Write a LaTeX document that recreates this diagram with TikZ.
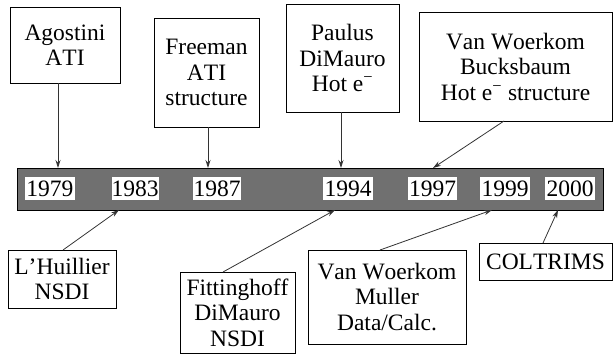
\documentclass[tikz,border=0pt]{standalone}
\usepackage{fontspec}
\setmainfont{Liberation Serif}[Kerning=Off]
\usetikzlibrary{arrows.meta}
\begin{document}
\begin{tikzpicture}[x=1pt,y=-1pt,
  lbl/.style={draw=black,line width=0.8pt,fill=white,align=center,inner sep=0pt,
    font=\fontsize{23.5}{25.5}\selectfont},
  yr/.style={fill=white,inner sep=0pt,minimum height=23pt,minimum width=50pt,
    font=\fontsize{23.5}{25}\selectfont},
  conn/.style={draw=black!80,line width=0.8pt,-{Stealth[length=8pt,width=5pt]}}]
\useasboundingbox (0,0) rectangle (613,356);
% timeline bar
\node[draw=black,line width=0.8pt,fill=black!56,minimum width=586pt,minimum height=42pt,inner sep=0pt]
  (bar) at (310,189) {};
\node[yr] (y1979) at (50,188.5) {1979};
\node[yr,minimum width=46pt] (y1983) at (135,188.5) {1983};
\node[yr,minimum width=48pt] (y1987) at (217,188.5) {1987};
\node[yr] (y1994) at (348,188.5) {1994};
\node[yr,minimum width=49pt] (y1997) at (432.5,188.5) {1997};
\node[yr] (y1999) at (505,188.5) {1999};
\node[yr] (y2000) at (570,188.5) {2000};
% top boxes
\node[lbl,minimum width=110pt,minimum height=76pt] (ago) at (65,45) {Agostini\\ATI};
\node[lbl,minimum width=105pt,minimum height=109pt] (free) at (206.5,72.5) {Freeman\\ATI\\structure};
\node[lbl,minimum width=113pt,minimum height=108pt] (paul) at (342.5,58) {Paulus\\DiMauro\\Hot e\textsuperscript{−}};
\node[lbl,minimum width=193pt,minimum height=109pt] (vwb) at (515.5,66.5) {Van Woerkom\\Bucksbaum\\Hot e\textsuperscript{−} structure};
% bottom boxes
\node[lbl,minimum width=108pt,minimum height=58pt] (lhu) at (62,279) {L’Huillier\\NSDI};
\node[lbl,minimum width=115pt,minimum height=81pt] (fit) at (237.5,312.5) {Fittinghoff\\DiMauro\\NSDI};
\node[lbl,minimum width=158pt,minimum height=94pt] (vwm) at (387,297) {Van Woerkom\\Muller\\Data/Calc.};
\node[lbl,minimum width=133pt,minimum height=37pt] (col) at (545.5,261.5) {COLTRIMS};
% connector anchor points on the bar
\coordinate (a1) at (58,168);
\coordinate (a2) at (208,168);
\coordinate (a3) at (341,168);
\coordinate (a4) at (433,168);
\coordinate (b1) at (119,210);
\coordinate (b2) at (335,210);
\coordinate (b3) at (492,210);
\coordinate (b4) at (558,210);
\coordinate (s1) at (58,83);
\coordinate (s2) at (208,127);
\coordinate (s4) at (504,121);
\coordinate (u1) at (63,250);
\coordinate (u2) at (223,272);
\coordinate (u3) at (380,250);
\coordinate (u4) at (543,243);
\draw[conn] (s1) -- (a1);
\draw[conn] (s2) -- (a2);
\draw[conn] (paul.south -| a3) -- (a3);
\draw[conn] (s4) -- (a4);
\draw[conn] (u1) -- (b1);
\draw[conn] (u2) -- (b2);
\draw[conn] (u3) -- (b3);
\draw[conn] (u4) -- (b4);
\end{tikzpicture}
\end{document}
